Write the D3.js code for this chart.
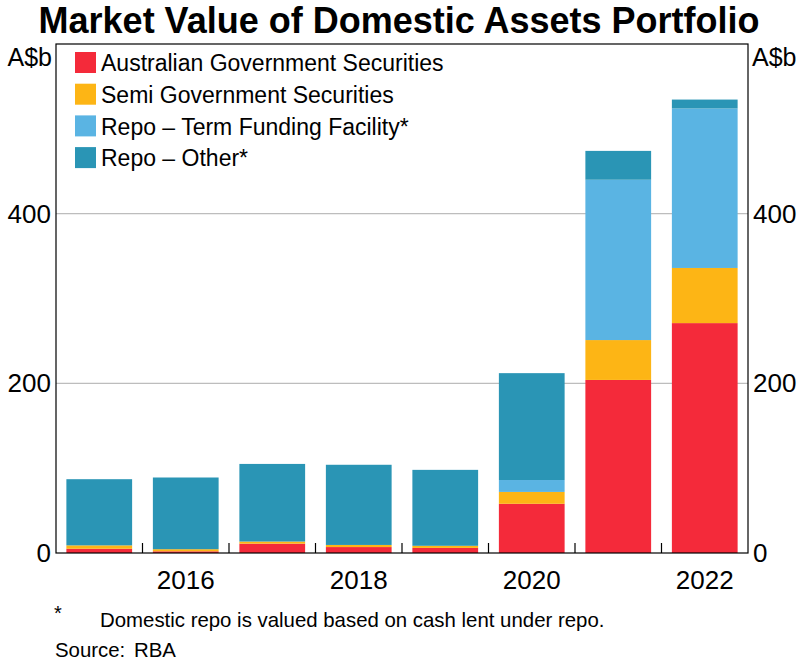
<!DOCTYPE html>
<html>
<head>
<meta charset="utf-8">
<script src="https://cdn.jsdelivr.net/npm/d3@7"></script>
<style>
  body { margin: 0; background: #fff; }
  text { font-family: Arial, "Liberation Sans", sans-serif; fill: #000; }
</style>
</head>
<body>
<script>
const years = [2015, 2016, 2017, 2018, 2019, 2020, 2021, 2022]
const ags = [5, 2, 11, 7, 6, 58, 204, 271]
const semis = [4, 2.5, 2.5, 2.5, 2.5, 14, 47, 65]
const repoTff = [0, 0, 0, 0, 0, 14, 189, 188]
const repoOther = [78, 84.5, 91.5, 94.5, 89.5, 126, 34, 10.5]
const seriesNames = ['Australian Government Securities', 'Semi Government Securities', 'Repo – Term Funding Facility*', 'Repo – Other*']
const colors = ['#f42a3a', '#fdb515', '#5ab4e3', '#2a95b5']
const yTicks = [0, 200, 400]
const yearLabels = [2016, 2018, 2020, 2022]

const width = 798
const height = 660
const margin = { top: 44, right: 50, bottom: 107, left: 56 }
const plotW = width - margin.left - margin.right
const plotH = height - margin.top - margin.bottom

const svg = d3.select('body').append('svg')
  .attr('width', width)
  .attr('height', height)

const keys = ['ags', 'semis', 'repoTff', 'repoOther']
const table = years.map((y, i) => ({
  year: y, ags: ags[i], semis: semis[i], repoTff: repoTff[i], repoOther: repoOther[i]
}))
const stacked = d3.stack().keys(keys)(table)

const x = d3.scaleBand().domain(years).range([margin.left, margin.left + plotW])
  .paddingInner(0.24).paddingOuter(0.12)
const xl = d3.scaleLinear().domain([2014.5, 2022.5]).range([margin.left, margin.left + plotW])
const y = d3.scaleLinear().domain([0, 600]).range([margin.top + plotH, margin.top])

// title
svg.append('text')
  .attr('x', width / 2)
  .attr('y', 33)
  .attr('text-anchor', 'middle')
  .style('font-size', '36px')
  .style('font-weight', 'bold')
  .text('Market Value of Domestic Assets Portfolio')

// gridlines
svg.append('g').selectAll('line')
  .data(yTicks.filter(d => d > 0))
  .join('line')
    .attr('x1', margin.left)
    .attr('x2', margin.left + plotW)
    .attr('y1', d => y(d))
    .attr('y2', d => y(d))
    .attr('stroke', '#bdbdbd')
    .attr('stroke-width', 1.2)

// bars
svg.append('g').selectAll('g')
  .data(stacked)
  .join('g')
    .attr('fill', (d, i) => colors[i])
  .selectAll('rect')
  .data(d => d)
  .join('rect')
    .attr('x', d => x(d.data.year))
    .attr('width', x.bandwidth())
    .attr('y', d => y(d[1]))
    .attr('height', d => y(d[0]) - y(d[1]))

// frame
svg.append('rect')
  .attr('x', margin.left)
  .attr('y', margin.top)
  .attr('width', plotW)
  .attr('height', plotH)
  .attr('fill', 'none')
  .attr('stroke', '#000')
  .attr('stroke-width', 1.2)

// x ticks at year boundaries
svg.append('g').selectAll('line')
  .data(d3.range(2015.5, 2022, 1))
  .join('line')
    .attr('x1', d => xl(d))
    .attr('x2', d => xl(d))
    .attr('y1', y(0))
    .attr('y2', y(0) - 10)
    .attr('stroke', '#000')
    .attr('stroke-width', 1.2)

svg.append('g').selectAll('text')
  .data(yearLabels)
  .join('text')
    .attr('x', d => xl(d))
    .attr('y', y(0) + 36)
    .attr('text-anchor', 'middle')
    .style('font-size', '26px')
    .text(d => d)

// y tick labels both sides
const yLab = svg.append('g')
yLab.selectAll('text.l')
  .data(yTicks)
  .join('text')
    .attr('class', 'l')
    .attr('x', margin.left - 5)
    .attr('y', d => y(d))
    .attr('dy', '0.35em')
    .attr('text-anchor', 'end')
    .style('font-size', '26px')
    .text(d => d)
yLab.selectAll('text.r')
  .data(yTicks)
  .join('text')
    .attr('class', 'r')
    .attr('x', margin.left + plotW + 5)
    .attr('y', d => y(d))
    .attr('dy', '0.35em')
    .attr('text-anchor', 'start')
    .style('font-size', '26px')
    .text(d => d)

svg.append('text')
  .attr('x', margin.left - 4)
  .attr('y', 66)
  .attr('text-anchor', 'end')
  .style('font-size', '25px')
  .text('A$b')
svg.append('text')
  .attr('x', margin.left + plotW + 4)
  .attr('y', 66)
  .attr('text-anchor', 'start')
  .style('font-size', '25px')
  .text('A$b')

// legend
const legend = svg.append('g').attr('transform', 'translate(75, 52)')
const item = legend.selectAll('g')
  .data(seriesNames)
  .join('g')
    .attr('transform', (d, i) => `translate(0, ${i * 31.7})`)
item.append('rect')
  .attr('width', 21)
  .attr('height', 21)
  .attr('fill', (d, i) => colors[i])
item.append('text')
  .attr('x', 26)
  .attr('y', 11)
  .attr('dy', '0.36em')
  .style('font-size', '23px')
  .text(d => d)

// footnotes
svg.append('text')
  .attr('x', 54)
  .attr('y', 620)
  .style('font-size', '20px')
  .text('*')
svg.append('text')
  .attr('x', 100)
  .attr('y', 627)
  .style('font-size', '20.4px')
  .text('Domestic repo is valued based on cash lent under repo.')
svg.append('text')
  .attr('x', 55)
  .attr('y', 657)
  .style('font-size', '20.4px')
  .text('Source:')
svg.append('text')
  .attr('x', 134)
  .attr('y', 657)
  .style('font-size', '20.4px')
  .text('RBA')
</script>
</body>
</html>
